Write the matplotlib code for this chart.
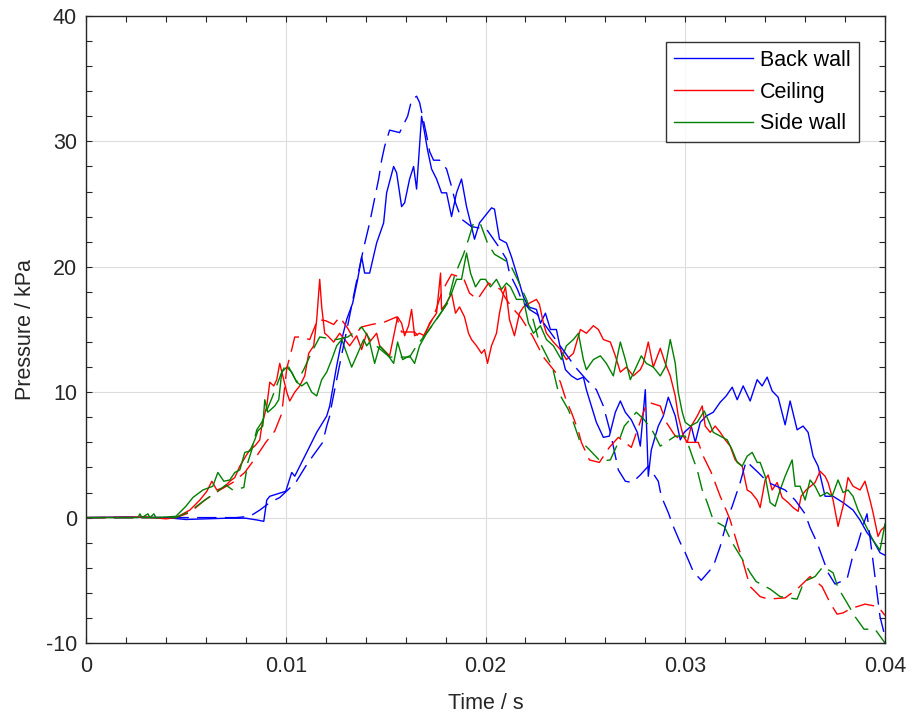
import numpy as np
import matplotlib
matplotlib.use("Agg")
import matplotlib.pyplot as plt
from matplotlib.ticker import MultipleLocator, FixedLocator

plt.rcParams['font.family'] = ['Liberation Sans', 'DejaVu Sans']
plt.rcParams['axes.unicode_minus'] = False

# ---------------- data (time in ms, pressure in kPa) ----------------
back_exp_t = [0.0, 2.0, 4.0, 5.0, 6.0, 7.0, 8.0, 8.6, 8.9, 9.05, 9.2, 9.6, 10.0, 10.3, 10.45, 11.05,
              11.55, 12.05, 12.2, 12.55, 12.85, 13.05, 13.35, 13.6, 13.8, 13.95, 14.2, 14.55, 14.9,
              15.05, 15.4, 15.55, 15.8, 15.95, 16.2, 16.4, 16.55, 16.8, 16.95, 17.1, 17.3, 17.55,
              17.8, 18.05, 18.3, 18.55, 18.8, 19.05, 19.3, 19.45, 19.7, 19.95, 20.3, 20.45, 20.7,
              21.05, 21.3, 21.55, 21.9, 22.15, 22.55, 22.75, 23.0, 23.25, 23.55, 23.8, 24.0, 24.3,
              24.6, 24.9, 25.05, 25.3, 25.55, 25.9, 26.2, 26.5, 26.75, 27.0, 27.3, 27.6, 27.75,
              28.0, 28.15, 28.3, 28.65, 28.9, 29.15, 29.5, 29.75, 29.95, 30.3, 30.5, 30.75, 31.05,
              31.4, 31.75, 32.05, 32.35, 32.6, 32.9, 33.25, 33.6, 33.85, 34.1, 34.35, 34.65, 35.0,
              35.25, 35.6, 35.9, 36.15, 36.4, 36.65, 37.0, 37.4, 37.9, 38.4, 38.75, 39.1, 39.4,
              39.75, 40.0]
back_exp_p = [0.0, 0.05, 0.0, -0.15, -0.1, -0.05, -0.05, -0.2, -0.3, 1.4, 1.7, 1.9, 2.1, 3.6, 3.3, 5.2,
              6.8, 8.1, 8.9, 12.1, 14.5, 15.8, 17.1, 19.0, 20.8, 19.5, 19.5, 21.9, 23.5,
              25.9, 28.0, 27.5, 24.8, 25.1, 27.0, 28.0, 26.2, 32.0, 30.7, 29.3, 27.8, 27.0,
              25.9, 25.9, 24.0, 25.9, 27.0, 24.8, 23.2, 22.2, 23.5, 24.0, 24.7, 24.6, 22.2,
              21.9, 20.8, 19.5, 17.6, 16.8, 16.6, 15.5, 16.3, 15.0, 15.0, 13.1, 11.8, 11.3,
              11.0, 11.2, 10.2, 8.9, 7.6, 6.4, 6.5, 8.4, 9.3, 8.4, 7.8, 6.8, 5.7,
              10.2, 3.3, 5.4, 7.3, 8.1, 9.6, 8.1, 6.2, 6.8, 7.3, 6.0, 7.6, 8.1,
              8.4, 9.2, 9.7, 10.4, 9.4, 10.5, 9.3, 11.0, 10.5, 11.2, 10.1, 9.6, 7.4,
              9.3, 7.0, 7.3, 6.8, 4.9, 4.1, 1.7, 1.7, 1.2, 0.6, -0.2, -1.2, -1.8,
              -2.8, -3.0]

back_sim_t = [0.0, 7.5, 8.2, 8.7, 9.2, 9.7, 10.5, 11.0, 11.35, 11.85, 12.05, 12.2, 12.3, 12.75, 13.1,
              13.5, 13.9, 14.2, 14.65, 14.8, 14.95, 15.2, 15.7, 16.1, 16.3, 16.55, 16.7, 17.05,
              17.2, 17.4, 17.7, 18.05, 18.3, 18.5, 18.8, 19.3, 20.05, 20.4, 20.75, 21.05, 21.2,
              21.6, 21.8, 22.2, 22.6, 23.6, 24.5, 25.05, 25.55, 25.9, 26.25, 26.65, 27.0, 27.35,
              27.75, 28.15, 28.65, 28.8, 29.15, 29.4, 29.75, 30.0, 30.4, 30.8, 31.4, 31.75, 32.15,
              32.35, 32.75, 33.05, 33.65, 34.15, 35.0, 35.5, 36.0, 36.25, 36.6, 36.85, 37.15,
              37.5, 38.1, 38.35, 38.6, 38.95, 39.1, 39.45, 39.75, 40.0]
back_sim_p = [0.0, 0.0, 0.1, 0.6, 1.2, 1.6, 2.8, 4.1, 4.9, 6.0, 7.3, 8.1, 9.0, 12.6, 15.3,
              18.5, 21.5, 23.5, 27.0, 28.5, 29.6, 30.9, 30.7, 32.0, 33.3, 33.6, 33.1, 30.5,
              29.2, 28.5, 28.5, 27.8, 26.4, 25.1, 23.8, 23.2, 23.0, 22.2, 21.4, 20.6, 19.5,
              18.2, 17.4, 16.6, 16.2, 14.0, 12.0, 11.0, 10.2, 8.9, 6.8, 3.8, 2.9, 2.8,
              3.4, 4.1, 2.9, 1.7, 0.4, -0.7, -2.0, -2.8, -4.3, -5.0, -3.9, -2.3, 0.1,
              0.9, 2.8, 4.5, 3.6, 2.8, 2.2, 1.4, 0.3, -0.8, -2.0, -3.1, -4.4,
              -5.3, -4.9, -3.3, -2.3, -0.4, 0.3, -4.1, -7.9, -9.5]

ceil_exp_t = [0.0, 3.0, 4.0, 4.5, 5.2, 5.7, 6.05, 6.3, 6.55, 6.9, 7.2, 7.45, 7.7, 8.0, 8.2, 8.45,
              8.7, 8.8, 9.05, 9.2, 9.4, 9.55, 9.7, 9.9, 10.05, 10.2, 10.45, 10.7, 10.95, 11.15,
              11.4, 11.55, 11.7, 11.8, 11.95, 12.1, 12.4, 12.7, 12.95, 13.2, 13.55, 13.8, 14.05,
              14.2, 14.55, 14.7, 15.2, 15.6, 15.8, 15.95, 16.15, 16.3, 16.45, 16.7, 16.95, 17.2,
              17.55, 17.75, 17.8, 18.05, 18.3, 18.5, 18.7, 18.95, 19.15, 19.3, 19.55, 19.8, 19.95,
              20.1, 20.3, 20.55, 20.7, 20.9, 21.0, 21.2, 21.45, 21.7, 21.9, 22.2, 22.55, 22.7,
              22.9, 23.05, 23.4, 23.75, 24.05, 24.4, 24.75, 25.05, 25.4, 25.65, 25.9, 26.25,
              26.5, 26.75, 27.05, 27.4, 27.75, 27.9, 28.15, 28.4, 28.75, 29.0, 29.25, 29.5,
              29.65, 29.9, 30.1, 30.3, 30.6, 30.85, 31.0, 31.25, 31.5, 31.75, 32.0, 32.25,
              32.5, 32.85, 33.1, 33.3, 33.6, 33.75, 34.0, 34.15, 34.35, 34.6, 34.85, 35.15,
              35.4, 35.65, 35.8, 36.05, 36.5, 36.75, 37.0, 37.15, 37.4, 37.65, 37.9, 38.15,
              38.4, 38.75, 39.0, 39.25, 39.4, 39.65, 39.8, 40.0]
ceil_exp_p = [0.0, 0.05, -0.1, 0.0, 0.6, 1.4, 2.1, 2.9, 2.2, 2.4, 2.9, 3.2, 4.1, 4.9, 5.4, 5.7,
              6.2, 7.3, 8.9, 10.8, 10.5, 11.0, 12.3, 11.0, 10.0, 9.3, 10.0, 10.5, 11.3, 13.1,
              13.7, 15.8, 19.0, 16.8, 14.7, 14.5, 14.0, 14.7, 14.2, 13.7, 14.5, 13.4, 14.7,
              14.0, 14.7, 13.7, 12.9, 16.0, 15.5, 14.5, 15.3, 16.6, 14.5, 14.7, 14.5, 15.5,
              16.3, 19.5, 16.6, 17.1, 17.9, 16.3, 16.8, 16.0, 14.7, 14.2, 13.7, 13.1, 13.4,
              12.3, 13.7, 14.7, 16.3, 17.9, 18.4, 15.8, 14.5, 16.3, 16.8, 17.1, 17.4, 17.0,
              15.5, 14.7, 14.0, 13.4, 12.6, 13.1, 15.0, 14.7, 15.3, 15.0, 14.2, 14.0,
              12.9, 11.6, 12.0, 11.3, 11.8, 12.3, 14.0, 12.0, 13.5, 12.3, 11.3, 9.7,
              8.1, 6.5, 6.0, 7.3, 8.1, 8.9, 7.3, 6.8, 7.3, 6.8, 6.2, 5.7,
              4.6, 4.1, 2.2, 2.0, 1.4, 0.8, 3.0, 3.4, 2.2, 2.8, 1.6, 1.2,
              0.8, 0.5, 1.7, 2.2, 2.8, 3.7, 3.3, 2.8, 1.4, -0.7, 0.9, 3.2,
              2.5, 2.2, 2.9, 1.4, 0.4, -1.5, -1.0, -0.7]

ceil_sim_t = [0.0, 4.5, 5.2, 5.95, 6.7, 7.35, 7.95, 8.5, 9.0, 9.45, 9.8, 10.05, 10.3, 10.45, 10.7,
              11.2, 11.6, 12.0, 12.4, 12.7, 13.1, 13.35, 13.8, 14.3, 14.95, 15.55, 15.8, 16.45,
              16.8, 17.4, 17.8, 18.05, 18.3, 18.9, 19.2, 19.6, 20.15, 20.75, 21.0, 21.3, 21.75,
              22.35, 22.9, 23.5, 23.75, 24.05, 24.3, 24.65, 24.8, 25.2, 25.7, 26.2, 26.65, 27.3,
              28.0, 28.15, 28.75, 29.05, 29.5, 30.1, 30.65, 30.9, 31.3, 31.75, 32.1, 32.25, 32.65,
              32.85, 33.1, 33.25, 33.75, 34.15, 35.0, 35.6, 36.25, 36.85, 37.25, 37.6, 37.9,
              38.35, 38.6, 39.0, 39.65, 40.0]
ceil_sim_p = [0.0, 0.0, 0.4, 1.4, 2.2, 2.8, 3.6, 4.8, 6.0, 6.9, 8.3, 11.9, 13.4, 14.4, 14.4,
              14.2, 15.8, 15.7, 15.4, 16.0, 15.1, 14.4, 15.2, 15.4, 15.6, 16.0, 14.8, 14.8,
              14.2, 16.0, 17.9, 18.7, 19.4, 19.1, 17.9, 17.4, 18.7, 18.2, 17.5, 16.8, 16.0,
              14.5, 12.8, 11.6, 10.8, 9.3, 8.4, 6.9, 6.0, 4.6, 4.4, 5.6, 6.4, 5.6,
              8.8, 9.2, 8.9, 7.6, 6.5, 6.0, 6.0, 4.9, 3.6, 1.7, 0.4, -0.2, -2.3,
              -3.3, -4.7, -5.5, -6.3, -6.5, -6.4, -5.7, -4.7, -5.5, -6.8, -7.7, -7.6,
              -7.2, -7.1, -6.9, -7.1, -7.8]

side_exp_t = [0.0, 2.6, 2.7, 2.8, 3.1, 3.2, 3.4, 3.5, 4.5, 5.0, 5.35, 5.85, 6.35, 6.6, 6.9, 7.2,
              7.45, 7.7, 7.95, 8.2, 8.45, 8.6, 8.85, 8.95, 9.1, 9.45, 9.65, 9.8, 10.05, 10.3,
              10.55, 10.8, 11.05, 11.3, 11.55, 11.8, 12.05, 12.3, 12.55, 12.8, 13.05, 13.3, 13.55,
              13.9, 14.05, 14.2, 14.45, 14.7, 15.05, 15.4, 15.6, 15.85, 16.2, 16.45, 16.7, 17.05,
              17.4, 17.75, 17.95, 18.3, 18.55, 18.8, 19.05, 19.25, 19.5, 19.75, 20.0, 20.25,
              20.55, 20.8, 21.05, 21.25, 21.55, 21.9, 22.15, 22.4, 22.75, 23.05, 23.4, 23.8,
              24.05, 24.4, 24.65, 24.9, 25.05, 25.4, 25.75, 26.05, 26.4, 26.75, 27.0, 27.25,
              27.8, 28.05, 28.4, 28.75, 29.0, 29.25, 29.5, 29.65, 29.85, 30.0, 30.25, 30.6,
              30.95, 31.2, 31.4, 31.75, 32.1, 32.35, 32.6, 32.85, 33.1, 33.35, 33.6, 33.75,
              34.0, 34.25, 34.5, 34.75, 35.0, 35.35, 35.5, 35.75, 36.0, 36.25, 36.5, 36.75,
              37.1, 37.35, 37.65, 37.9, 38.15, 38.4, 38.65, 38.9, 39.15, 39.4, 39.75, 40.0]
side_exp_p = [0.0, 0.0, 0.3, 0.0, 0.3, 0.0, 0.3, 0.0, 0.1, 0.9, 1.6, 2.2, 2.5, 3.6, 2.9, 3.0,
              3.6, 3.8, 5.2, 5.3, 6.2, 6.9, 7.3, 9.4, 8.4, 8.9, 9.4, 11.6, 12.0, 11.6,
              10.8, 10.5, 10.8, 10.0, 9.7, 11.0, 11.6, 12.6, 13.7, 14.2, 13.1, 12.0, 12.9,
              14.2, 13.7, 14.0, 12.3, 13.7, 13.1, 12.3, 14.0, 12.6, 12.9, 12.3, 13.7, 14.7,
              15.5, 16.3, 16.8, 17.9, 19.0, 19.0, 21.1, 19.5, 18.4, 19.0, 19.0, 18.4,
              19.0, 18.2, 18.7, 18.4, 17.4, 17.4, 15.5, 14.7, 15.3, 14.2, 13.7, 12.6,
              13.7, 14.2, 14.7, 12.6, 11.8, 12.6, 12.9, 12.3, 11.3, 14.0, 12.6, 11.0,
              12.9, 12.3, 12.0, 11.3, 12.0, 14.2, 12.3, 10.0, 8.4, 7.6, 7.3, 7.6,
              8.5, 7.6, 6.8, 6.5, 6.2, 5.4, 4.4, 4.1, 4.9, 5.2, 4.4, 4.4,
              3.3, 1.2, 0.9, 2.2, 3.3, 4.6, 2.5, 2.5, 1.4, 3.0, 2.5, 1.7,
              2.0, 1.7, 3.0, 2.0, 2.2, 1.7, 0.6, -0.2, -1.0, -1.8, -2.6, -0.5]

side_sim_t = [0.0, 4.5, 5.2, 5.95, 6.5, 7.0, 7.35, 7.9, 8.1, 8.3, 8.55, 8.8, 9.3, 9.8, 10.05, 10.55,
              10.9, 11.3, 11.7, 12.55, 13.1, 13.8, 14.3, 15.2, 16.2, 16.55, 17.05, 17.55, 18.1,
              18.45, 18.9, 19.15, 19.4, 19.75, 20.1, 20.45, 21.2, 21.6, 22.05, 22.3, 22.65, 23.35,
              23.5, 23.65, 24.15, 24.4, 24.7, 25.15, 25.75, 26.25, 26.65, 26.95, 27.55, 27.95,
              28.4, 28.75, 29.5, 30.0, 30.35, 30.6, 30.85, 31.1, 31.4, 31.95, 32.35, 32.85,
              33.25, 33.55, 34.25, 34.75, 35.6, 35.95, 36.5, 36.9, 37.4, 37.65, 38.1, 38.5,
              38.95, 39.5, 40.0]
side_sim_p = [0.0, 0.0, 0.5, 1.4, 2.0, 2.6, 2.2, 2.4, 4.4, 5.4, 7.0, 7.6, 9.5, 11.6, 12.3, 10.8,
              11.8, 13.2, 14.4, 14.2, 14.4, 15.2, 14.0, 12.8, 12.8, 13.7, 14.7, 15.8, 17.1,
              19.3, 21.0, 22.2, 23.5, 23.4, 21.9, 21.0, 20.3, 19.0, 17.4, 16.3, 14.2, 12.0,
              11.0, 10.0, 8.6, 7.6, 6.2, 5.5, 4.5, 4.6, 6.0, 7.3, 8.4, 7.8,
              6.8, 5.7, 6.5, 6.5, 4.9, 3.8, 2.2, 1.2, -0.2, -0.7, -2.0, -3.3,
              -4.4, -5.1, -5.7, -6.3, -6.5, -5.1, -4.7, -3.9, -4.4, -5.6, -6.8, -7.9,
              -8.9, -8.9, -10.0]

labels = ["Back wall", "Ceiling", "Side wall"]
colors = ["#0000ff", "#ff0000", "#008000"]
x_ticks = [0, 0.01, 0.02, 0.03, 0.04]
x_ticklabels = ["0", "0.01", "0.02", "0.03", "0.04"]
y_ticks = [-10, 0, 10, 20, 30, 40]

exp_sets = [(back_exp_t, back_exp_p), (ceil_exp_t, ceil_exp_p), (side_exp_t, side_exp_p)]
sim_sets = [(back_sim_t, back_sim_p), (ceil_sim_t, ceil_sim_p), (side_sim_t, side_sim_p)]

FS = 15.5

# ---------------- figure ----------------
fig = plt.figure(figsize=(9.09, 7.14), dpi=100)
ax = fig.add_axes([86/909, 71/714, 799/909, 627/714])

for (t, p), c, lab in zip(exp_sets, colors, labels):
    ax.plot(np.array(t) / 1000.0, p, color=c, lw=1.0, label=lab)
for (t, p), c in zip(sim_sets, colors):
    ax.plot(np.array(t) / 1000.0, p, color=c, lw=1.0, dashes=(14, 6))

ax.set_xlim(0, 0.04)
ax.set_ylim(-10, 40)
ax.xaxis.set_major_locator(FixedLocator(x_ticks))
ax.set_xticklabels(x_ticklabels)
ax.yaxis.set_major_locator(FixedLocator(y_ticks))
ax.xaxis.set_minor_locator(MultipleLocator(0.002))
ax.yaxis.set_minor_locator(MultipleLocator(2))

ax.grid(True, which='major', color='#dcdcdc', lw=0.8)
ax.set_axisbelow(True)

dk = '#262626'
for s in ax.spines.values():
    s.set_color(dk)
    s.set_linewidth(1.0)
ax.tick_params(which='both', direction='in', top=True, right=True, length=4,
               width=0.8, color=dk, labelcolor=dk, labelsize=FS)
ax.tick_params(axis='x', which='major', pad=9)
ax.tick_params(axis='y', which='major', pad=6.5)

ax.set_xlabel("Time / s", fontsize=FS, color=dk, labelpad=12)
ax.set_ylabel("Pressure / kPa", fontsize=FS, color=dk, labelpad=7)

leg = ax.legend(loc='upper right', bbox_to_anchor=(1 - 26/799, 1 - 26/627),
                borderaxespad=0, fontsize=FS, handlelength=3.67, handletextpad=0.33,
                labelspacing=0.5, frameon=True, fancybox=False, borderpad=0.37)
leg.get_frame().set_edgecolor('black')
leg.get_frame().set_linewidth(1.0)
for t in leg.get_texts():
    t.set_color('black')

fig.savefig("out.png", dpi=100)
